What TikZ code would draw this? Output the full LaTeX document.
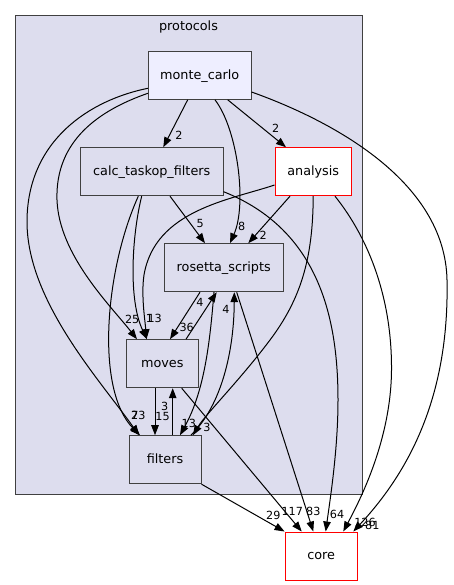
\documentclass[tikz,border=0pt]{standalone}
\usepackage{fontspec}
\setmainfont{DejaVu Sans}
\usetikzlibrary{arrows.meta}
\definecolor{dirfill}{HTML}{DDDDEE}
\definecolor{mainfill}{HTML}{EEEEFF}
\definecolor{dirline}{HTML}{404040}
\tikzset{
  dirbox/.style={draw=dirline, fill=dirfill, line width=1pt, minimum height=48pt,
    inner sep=0pt, font=\fontsize{12.8}{15}\selectfont, text height=9.6pt, text depth=2pt},
  maindir/.style={dirbox, fill=mainfill},
  truncdir/.style={dirbox, draw=red, fill=white},
  cluster/.style={draw=black!75, fill=dirfill, line width=1pt},
  dep/.style={line width=1pt, -{Triangle[length=10pt,width=7.5pt]}},
  lbl/.style={font=\fontsize{11.2}{13}\selectfont, inner sep=0pt, text height=8.2pt, text depth=0pt}
}
\begin{document}
\begin{tikzpicture}[x=1pt, y=-1pt]
\useasboundingbox (0,0) rectangle (453,585);

%protocols
\draw[cluster] (15.7,15.7) rectangle (362.7,494.7);
\node[font=\fontsize{12.8}{15}\selectfont, text height=9.6pt, text depth=2pt] (proto) at (188.5,27) {protocols};

%dossiers
\node[maindir, minimum width=102.7pt, minimum height=47.6pt] (mc) at (199.7,75.5) {monte\_carlo};
\node[dirbox, minimum width=142.7pt] (calc) at (151.7,171.7) {calc\_taskop\_filters};
\node[truncdir, minimum width=76.3pt] (ana) at (313.2,171.7) {analysis};
\node[dirbox, minimum width=118.7pt] (ros) at (223.7,267.7) {rosetta\_scripts};
\node[dirbox, minimum width=72pt] (mov) at (162.3,363.7) {moves};
\node[dirbox, minimum width=72pt] (fil) at (165,459.7) {filters};
\node[truncdir, minimum width=72.3pt] (core) at (321.2,556) {core};

%depuis monte_carlo
\draw[dep] ([xshift=-12pt]mc.south) -- ([xshift=11.6pt]calc.north);
\draw[dep] ([xshift=28pt]mc.south) -- ([xshift=-27.2pt]ana.north);
\draw[dep] ([xshift=15.3pt]mc.south) .. controls (238,130) and (247,205) .. ([xshift=6.3pt]ros.north);
\draw[dep] ([yshift=-17.8pt]mc.west) .. controls (100,110) and (55,140) .. (57,200)
  .. controls (59,255) and (110,305) .. ([xshift=-25.3pt]mov.north);
\draw[dep] ([yshift=-12.8pt]mc.west) .. controls (90,100) and (28,140) .. (27,220)
  .. controls (26,300) and (100,380) .. ([xshift=-26pt]fil.north);
\draw[dep] ([yshift=-16.5pt]mc.east) .. controls (330,120) and (445,180) .. (447,280)
  .. controls (449,380) and (420,460) .. ([xshift=32.1pt]core.north);

%depuis calc_taskop_filters
\draw[dep] ([xshift=18.3pt]calc.south) -- ([xshift=-18.7pt]ros.north);
\draw[dep] ([xshift=-10pt]calc.south) .. controls (132,235) and (128,300) .. ([xshift=-15.3pt]mov.north);
\draw[dep] ([xshift=-13.4pt]calc.south) .. controls (105,270) and (95,390) .. ([xshift=-25pt]fil.north);
\draw[dep] ([yshift=-20pt]calc.east) .. controls (320,230) and (338,320) .. (338,400)
  .. controls (338,450) and (330,500) .. ([xshift=4.5pt]core.north);

%depuis analysis
\draw[dep] ([xshift=-23.2pt]ana.south) -- ([xshift=24.6pt]ros.north);
\draw[dep] ([yshift=-13.3pt]ana.west) .. controls (230,200) and (155,210) .. (144,275)
  .. controls (141,295) and (145,320) .. ([xshift=-15.8pt]mov.north);
\draw[dep] (ana.south) .. controls (313,260) and (300,300) .. (270,340)
  .. controls (240,380) and (205,415) .. ([xshift=28pt]fil.north);
\draw[dep] ([xshift=21.8pt]ana.south) .. controls (370,240) and (392,300) .. (391.5,370)
  .. controls (391,440) and (360,500) .. ([xshift=22.1pt]core.north);

%depuis rosetta_scripts
\draw[dep] ([xshift=-23.7pt]ros.south) -- ([xshift=7.7pt]mov.north);
\draw[dep] ([xshift=-9.7pt]ros.south) .. controls (210,340) and (205,390) .. ([xshift=15pt]fil.north);
\draw[dep] ([xshift=13pt]ros.south) -- ([xshift=-7.9pt]core.north);

%depuis moves
\draw[dep] ([xshift=23.7pt]mov.north) -- ([xshift=-7pt]ros.south);
\draw[dep] ([xshift=-7.3pt]mov.south) -- ([xshift=-10pt]fil.north);
\draw[dep] ([xshift=19.4pt]mov.south) -- ([xshift=-19.5pt]core.north);

%depuis filters
\draw[dep] ([xshift=7.7pt]fil.north) -- ([xshift=10.4pt]mov.south);
\draw[dep] ([xshift=26pt]fil.north) .. controls (222,405) and (234,350) .. ([xshift=10.6pt]ros.south);
\draw[dep] (fil.south east) -- (core.north west);

%étiquettes
\node[lbl] (l1) at (179,135) {2};
\node[lbl] (l2) at (275.7,128.3) {2};
\node[lbl] (l3) at (241.7,226.7) {8};
\node[lbl] (l4) at (132.2,319.5) {25};
\node[lbl] (l5) at (135,415.5) {7};
\node[lbl] (l6) at (138.3,415.5) {23};
\node[lbl] (l7) at (200.3,223.3) {5};
\node[lbl] (l8) at (149.5,318.5) {1};
\node[lbl] (l9) at (154.7,318.5) {13};
\node[lbl] (l10) at (263.3,235.7) {2};
\node[lbl] (l11) at (207,427.7) {3};
\node[lbl] (l12) at (200,302.7) {4};
\node[lbl] (l13) at (186.7,327.3) {36};
\node[lbl] (l14) at (188.8,423.3) {13};
\node[lbl] (l15) at (226,309.7) {4};
\node[lbl] (l16) at (164.7,406) {3};
\node[lbl] (l17) at (162.5,416.5) {15};
\node[lbl] (l18) at (273.3,515) {29};
\node[lbl] (l19) at (292.3,511.7) {117};
\node[lbl] (l20) at (313.3,511.5) {83};
\node[lbl] (l21) at (337,514.3) {64};
\node[lbl] (l22) at (365,522.3) {126};
\node[lbl] (l23) at (372.3,525.7) {81};
\end{tikzpicture}
\end{document}
